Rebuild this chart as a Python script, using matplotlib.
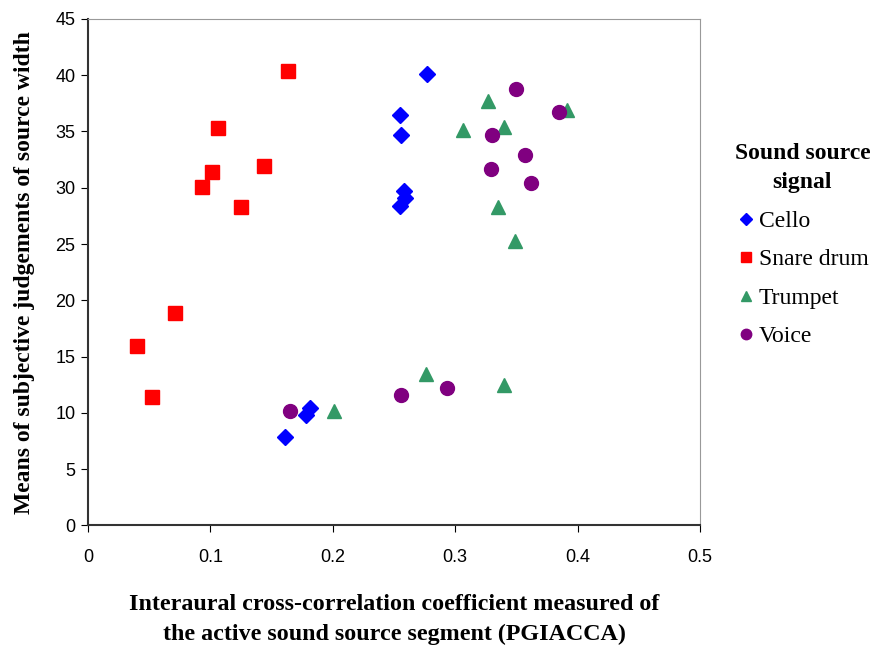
import matplotlib.pyplot as plt

# PGIACCA (x) and mean subjective width (y) per sound source
cello_x = [0.277, 0.255, 0.256, 0.258, 0.259, 0.255, 0.181, 0.178, 0.161]
cello_y = [40.1, 36.45, 34.7, 29.7, 29.1, 28.4, 10.4, 9.8, 7.85]

snare_x = [0.163, 0.106, 0.101, 0.093, 0.144, 0.125, 0.071, 0.040, 0.052]
snare_y = [40.4, 35.3, 31.4, 30.1, 31.9, 28.3, 18.9, 15.95, 11.4]

trumpet_x = [0.327, 0.391, 0.306, 0.340, 0.335, 0.349, 0.276, 0.340, 0.201]
trumpet_y = [37.7, 36.9, 35.1, 35.4, 28.3, 25.3, 13.5, 12.5, 10.15]

voice_x = [0.350, 0.385, 0.330, 0.357, 0.329, 0.362, 0.293, 0.256, 0.165]
voice_y = [38.8, 36.7, 34.7, 32.9, 31.7, 30.4, 12.2, 11.6, 10.2]

x_ticks = [0, 0.1, 0.2, 0.3, 0.4, 0.5]
x_tick_labels = ['0', '0.1', '0.2', '0.3', '0.4', '0.5']
y_ticks = list(range(0, 50, 5))

serif = ['Liberation Serif', 'DejaVu Serif']
sans = ['Liberation Sans', 'DejaVu Sans']

fig = plt.figure(figsize=(8.75, 6.45), dpi=100)
ax = fig.add_axes([0.1006, 0.1853, 0.6994, 0.7854])

ax.plot(cello_x, cello_y, 'D', color='#0000FF', markersize=8, linestyle='none', label='Cello')
ax.plot(snare_x, snare_y, 's', color='#FF0000', markersize=10, linestyle='none', label='Snare drum')
ax.plot(trumpet_x, trumpet_y, '^', color='#339966', markersize=10, linestyle='none', label='Trumpet')
ax.plot(voice_x, voice_y, 'o', color='#800080', markersize=10, linestyle='none', label='Voice')

ax.set_xlim(0, 0.5)
ax.set_ylim(0, 45)
ax.set_xticks(x_ticks)
ax.set_xticklabels(x_tick_labels)
ax.set_yticks(y_ticks)
for lbl in ax.get_xticklabels() + ax.get_yticklabels():
    lbl.set_family(sans)
    lbl.set_fontsize(13)
ax.tick_params(axis='x', direction='out', length=5, pad=12, colors='black')
ax.tick_params(axis='y', direction='out', length=5, pad=4, colors='black')

ax.spines['left'].set_color('#333333')
ax.spines['bottom'].set_color('#333333')
ax.spines['left'].set_linewidth(1.5)
ax.spines['bottom'].set_linewidth(1.5)
ax.spines['top'].set_color('#999999')
ax.spines['right'].set_color('#999999')

ax.set_xlabel('Interaural cross-correlation coefficient measured of\nthe active sound source segment (PGIACCA)',
              family=serif, fontweight='bold', fontsize=17.3, labelpad=20, linespacing=1.55)
ax.set_ylabel('Means of subjective judgements of source width',
              family=serif, fontweight='bold', fontsize=17, labelpad=15)

leg = ax.legend(loc='upper center', bbox_to_anchor=(0.917, 0.812), bbox_transform=fig.transFigure,
                frameon=False, title='Sound source\nsignal', prop={'family': serif, 'size': 17},
                handletextpad=0.15, handlelength=0.8, labelspacing=0.72, markerscale=0.75)
title = leg.get_title()
title.set_family(serif)
title.set_fontweight('bold')
title.set_fontsize(17)
title.set_linespacing(1.55)
title.set_multialignment('center')

fig.savefig('out.png', dpi=100)
